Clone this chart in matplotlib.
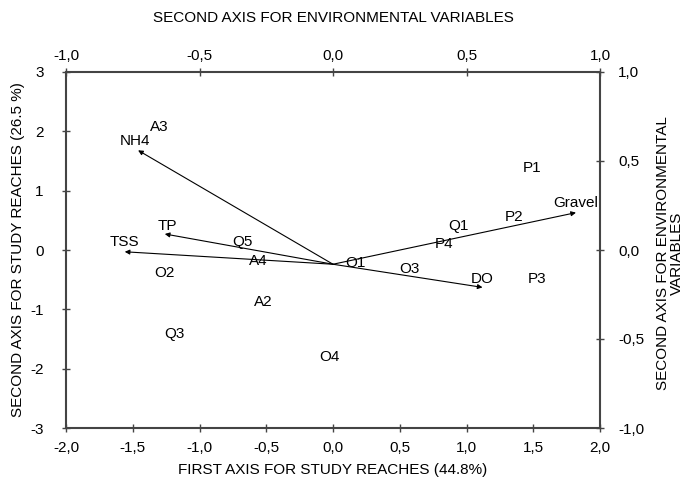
# plot.py - RDA/CCA biplot: study reaches + environmental variables
import matplotlib
matplotlib.use("Agg")
import matplotlib.pyplot as plt
from matplotlib.ticker import FuncFormatter, MultipleLocator

plt.rcParams["font.family"] = ["Liberation Sans", "DejaVu Sans"]
plt.rcParams["font.size"] = 11

# study reaches (first / second axis scores)
sites = ["A3", "Q5", "A4", "O1", "O2", "A2", "Q3", "O4",
         "P1", "P2", "Q1", "P4", "O3", "P3"]
site_x = [-1.30, -0.68, -0.56, 0.17, -1.26, -0.52, -1.19, -0.03,
          1.49, 1.36, 0.94, 0.83, 0.57, 1.53]
site_y = [2.07, 0.14, -0.19, -0.22, -0.39, -0.88, -1.42, -1.80,
          1.38, 0.56, 0.40, 0.10, -0.32, -0.49]

# environmental variables (second axes, -1..1)
env_vars = ["NH4", "TP", "TSS", "Gravel", "DO"]
env_x = [-0.73, -0.63, -0.78, 0.91, 0.56]
env_y = [0.56, 0.09, -0.01, 0.21, -0.21]
env_label_x = [-0.74, -0.62, -0.78, 0.91, 0.56]
env_label_y = [0.61, 0.135, 0.045, 0.265, -0.165]
env_origin = (0.0, -0.08)


def comma(fmt):
    return FuncFormatter(lambda v, p: (fmt % v).replace(".", ",").replace("-0,0", "0,0"))


fig = plt.figure(figsize=(6.84, 4.86), dpi=100)
pos = [66 / 684, 1 - 428 / 486, 534 / 684, 356 / 486]
ax = fig.add_axes(pos)
ax_env = fig.add_axes(pos, facecolor="none")

spine_col = "#444444"

# primary axes
ax.set_xlim(-2, 2)
ax.set_ylim(-3, 3)
ax.xaxis.set_major_locator(MultipleLocator(0.5))
ax.yaxis.set_major_locator(MultipleLocator(1))
ax.xaxis.set_major_formatter(comma("%.1f"))
ax.yaxis.set_major_formatter(FuncFormatter(lambda v, p: "%d" % round(v)))
ax.tick_params(direction="inout", length=6, width=1, color=spine_col, labelsize=11)
ax.tick_params(axis="x", pad=6)
ax.tick_params(axis="y", pad=13)
for s in ax.spines.values():
    s.set_color(spine_col)
    s.set_linewidth(1.5)
ax.set_xlabel("FIRST AXIS FOR STUDY REACHES (44.8%)", fontsize=11)
ax.set_ylabel("SECOND AXIS FOR STUDY REACHES (26.5 %)", fontsize=11)
ax.xaxis.set_label_coords(0.5, -0.118)
ax.yaxis.set_label_coords(-0.090, 0.5)
ax.xaxis.label.set_va("center")
ax.yaxis.label.set_va("center")

for name, x, y in zip(sites, site_x, site_y):
    ax.text(x, y, name, ha="center", va="center", fontsize=11)

# environmental axes on top / right
ax_env.set_xlim(-1, 1)
ax_env.set_ylim(-1, 1)
ax_env.xaxis.set_major_locator(MultipleLocator(0.5))
ax_env.yaxis.set_major_locator(MultipleLocator(0.5))
ax_env.xaxis.set_major_formatter(comma("%.1f"))
ax_env.yaxis.set_major_formatter(comma("%.1f"))
ax_env.xaxis.tick_top()
ax_env.yaxis.tick_right()
ax_env.xaxis.set_label_position("top")
ax_env.yaxis.set_label_position("right")
ax_env.tick_params(direction="inout", length=6, width=1, color=spine_col, labelsize=11)
ax_env.tick_params(axis="y", pad=10)
for s in ax_env.spines.values():
    s.set_visible(False)
ax_env.set_xlabel("SECOND AXIS FOR ENVIRONMENTAL VARIABLES", fontsize=11)
ax_env.set_ylabel("SECOND AXIS FOR ENVIRONMENTAL\nVARIABLES", fontsize=11,
                  rotation=90, linespacing=1.0)
ax_env.xaxis.set_label_coords(0.5, 1.152)
ax_env.yaxis.set_label_coords(1.131, 0.49)
ax_env.xaxis.label.set_va("center")
ax_env.yaxis.label.set_va("center")
ax_env.yaxis.label.set_ha("center")

for name, x, y, lx, ly in zip(env_vars, env_x, env_y, env_label_x, env_label_y):
    ax_env.annotate("", xy=(x, y), xytext=env_origin,
                    arrowprops=dict(arrowstyle="-|>", color="black", lw=0.8,
                                    mutation_scale=7, shrinkA=0, shrinkB=0))
    ax_env.text(lx, ly, name, ha="center", va="center", fontsize=11)

fig.savefig("out.png", dpi=100)
